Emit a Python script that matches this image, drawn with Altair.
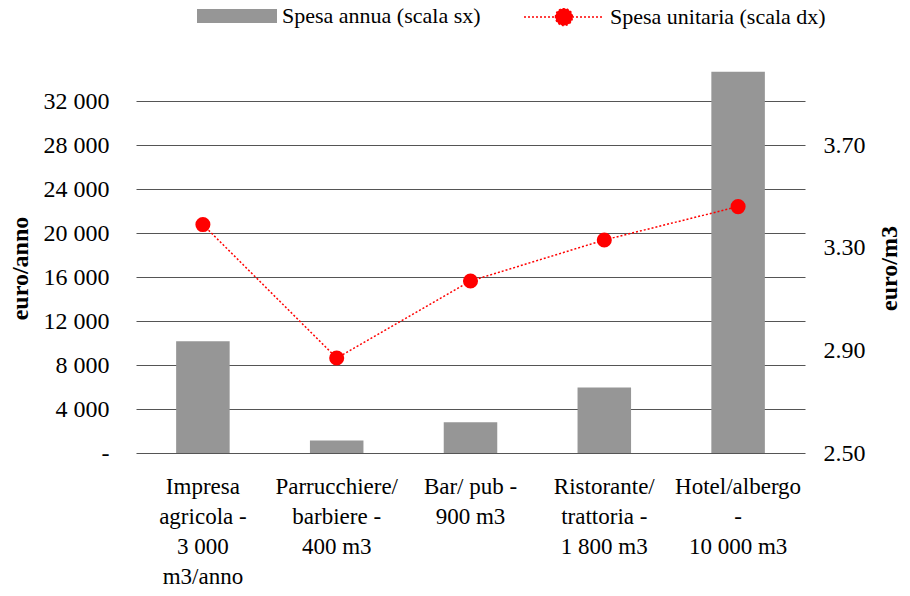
import altair as alt
import pandas as pd

# ---- data ----
categories = [
    "Impresa|agricola -|3 000|m3/anno",
    "Parrucchiere/|barbiere -|400 m3",
    "Bar/ pub -|900 m3",
    "Ristorante/|trattoria -|1 800 m3",
    "Hotel/albergo|-|10 000 m3",
]
spesa_annua = [10150, 1130, 2800, 5950, 34650]        # euro/anno (left axis)
spesa_unitaria = [3.39, 2.87, 3.17, 3.33, 3.46]       # euro/m3 (right axis)
series_names = ["Spesa annua (scala sx)", "Spesa unitaria (scala dx)"]
left_ticks = [0, 4000, 8000, 12000, 16000, 20000, 24000, 28000, 32000]
right_ticks = [2.5, 2.9, 3.3, 3.7]

df = pd.DataFrame({
    "cat": categories,
    "annua": spesa_annua,
    "unit": spesa_unitaria,
    "s_bar": series_names[0],
    "s_line": series_names[1],
})

FONT = "Liberation Serif"
BAR_COL = "#969696"
RED = "#ff0000"
GRID = "#555555"

rect_path = "M-1,-0.175H1V0.175H-1Z"
r = 0.2125
line_dot_path = f"M-1,0H1M-{r},0A{r},{r},0,1,1,{r},0A{r},{r},0,1,1,-{r},0Z"

common_leg = dict(
    title=None, orient="none", padding=0, symbolSize=6400,
    labelFont=FONT, labelFontSize=22, labelColor="black",
    labelOffset=5, labelLimit=400, symbolOpacity=1,
)
bar_legend = alt.Legend(legendX=61, legendY=-92, symbolType=rect_path,
                        symbolFillColor=BAR_COL, symbolStrokeWidth=0, **common_leg)
line_legend = alt.Legend(legendX=387, legendY=-92, symbolType=line_dot_path,
                         symbolFillColor=RED, symbolStrokeColor=RED,
                         symbolDash=[2, 2], symbolStrokeWidth=1.5, **common_leg)

x_enc = alt.X(
    "cat:N", sort=categories,
    scale=alt.Scale(paddingInner=0.6, paddingOuter=0.3),
    axis=alt.Axis(
        title=None, labelAngle=0, labelExpr="split(datum.label, '|')",
        labelLineHeight=30, labelFont=FONT, labelFontSize=23, labelColor="black",
        labelPadding=22, domain=False, ticks=False, labelLimit=400,
    ),
)

bars = alt.Chart(df).mark_bar(opacity=1).encode(
    x=x_enc,
    y=alt.Y(
        "annua:Q",
        scale=alt.Scale(domain=[0, 35000], nice=False),
        axis=alt.Axis(
            values=left_ticks, grid=True, gridColor=GRID, gridWidth=1, gridOpacity=1,
            domain=False, ticks=False, tickSize=0, labelPadding=27,
            labelExpr="datum.value == 0 ? '-' : replace(format(datum.value, ',.0f'), ',', ' ')",
            labelFont=FONT, labelFontSize=24, labelColor="black",
            title="euro/anno", titleFont=FONT, titleFontSize=24, titleFontWeight="bold",
            titleColor="black", titlePadding=11, titleY=200,
        ),
    ),
    color=alt.Color("s_bar:N", scale=alt.Scale(domain=[series_names[0]], range=[BAR_COL]),
                    legend=bar_legend),
)

y_right = alt.Y(
    "unit:Q",
    scale=alt.Scale(domain=[2.5, 4.0], nice=False, zero=False),
    axis=alt.Axis(
        orient="right", values=right_ticks, format=".2f", grid=False,
        domain=False, ticks=False, tickSize=0, labelPadding=18,
        labelFont=FONT, labelFontSize=24, labelColor="black",
        title="euro/m3", titleFont=FONT, titleFontSize=24, titleFontWeight="bold",
        titleColor="black", titleAngle=270, titleBaseline="top", titlePadding=12, titleY=200,
    ),
)

line = alt.Chart(df).mark_line(strokeDash=[2, 2], strokeWidth=1.5).encode(
    x=alt.X("cat:N", sort=categories),
    y=y_right,
    stroke=alt.Stroke("s_line:N", scale=alt.Scale(domain=[series_names[1]], range=[RED]),
                      legend=line_legend),
)
points = alt.Chart(df).mark_point(filled=True, size=227, opacity=1, color=RED).encode(
    x=alt.X("cat:N", sort=categories),
    y=alt.Y("unit:Q"),
)

chart = alt.layer(bars, alt.layer(line, points)).resolve_scale(y="independent").properties(
    width=669, height=385,
    background="white",
    autosize=alt.AutoSizeParams(type="none"),
    padding={"left": 128, "top": 60, "right": 97, "bottom": 135},
).configure_view(stroke=None)

chart.save("out.html", embed_options={"renderer": "svg", "actions": False})
